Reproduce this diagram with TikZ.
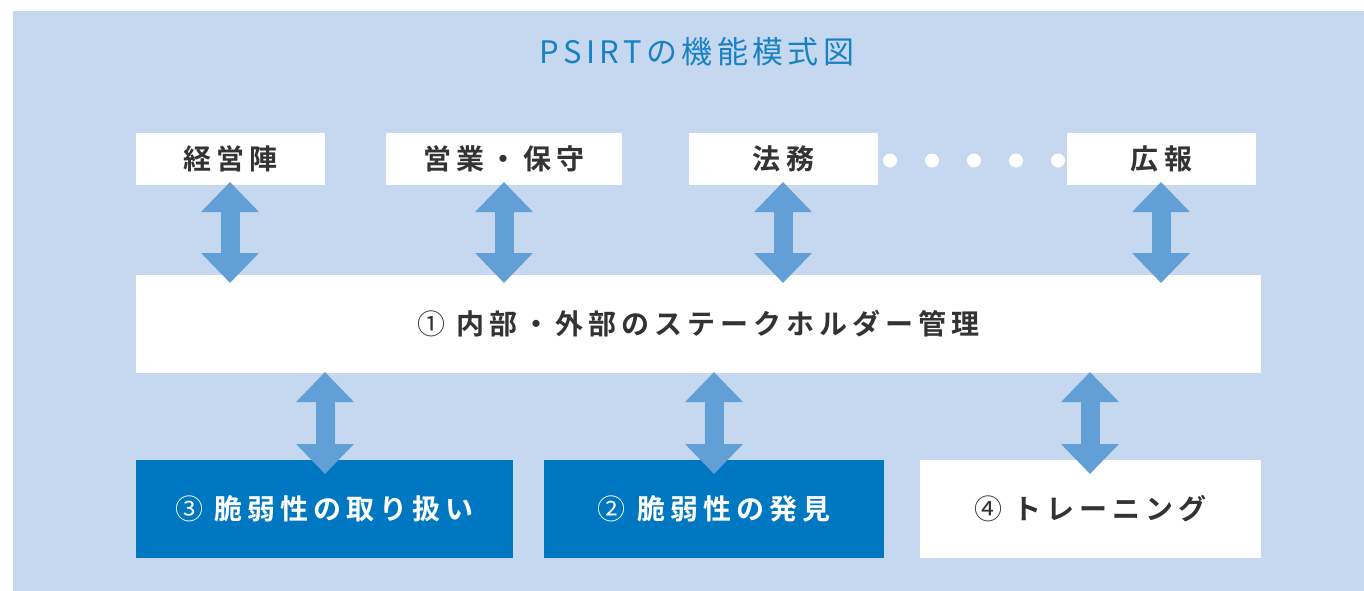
\documentclass[tikz,border=0pt]{standalone}
\usepackage{fontspec}
\usetikzlibrary{arrows.meta}
\newfontfamily\jpr[LetterSpace=14]{Noto Sans CJK JP}
\newfontfamily\jpb[LetterSpace=18]{Noto Sans CJK JP Bold}
\newfontfamily\jpn[LetterSpace=18]{Noto Sans CJK JP}
\definecolor{bgblue}{HTML}{C5D8EF}
\definecolor{arrblue}{HTML}{629FD6}
\definecolor{darkblue}{HTML}{0078C1}
\definecolor{titleblue}{HTML}{1A80C4}
\definecolor{txtgray}{HTML}{333333}
\tikzset{
  whitebox/.style={fill=white, draw=none, inner sep=0pt, text=txtgray, font=\jpb\fontsize{28}{32}\selectfont},
  bluebox/.style={fill=darkblue, draw=none, inner sep=0pt, text=white, font=\jpb\fontsize{28}{32}\selectfont},
  dblarrow/.style={arrblue, line width=19pt,
    {Triangle[width=56pt,length=30pt]}-{Triangle[width=56pt,length=30pt]}},
  wdot/.style={circle, fill=white, draw=none, minimum size=14pt, inner sep=0pt}
}
\begin{document}
\begin{tikzpicture}[x=1pt,y=-1pt]
\useasboundingbox (0,0) rectangle (1364,591);
\fill[bgblue] (13,11) rectangle (1364,591);
\node[text=titleblue, font=\jpr\fontsize{31}{35}\selectfont] (title) at (697,52) {PSIRTの機能模式図};
% top boxes
\node[whitebox, minimum width=189pt, minimum height=52pt] (keiei) at (230.5,159) {経営陣};
\node[whitebox, minimum width=236pt, minimum height=52pt] (eigyo) at (504,159) {営業・保守};
\node[whitebox, minimum width=189pt, minimum height=52pt] (houmu) at (783.5,159) {法務};
\node[whitebox, minimum width=189pt, minimum height=52pt] (kouhou) at (1161.5,159) {広報};
\foreach \i/\x in {1/890,2/932,3/974,4/1016,5/1058}
  \node[wdot] (dot\i) at (\x,160.5) {};
% middle box
\node[whitebox, minimum width=1125pt, minimum height=98pt] (mgmt) at (698.5,324) {{\jpn ①} 内部・外部のステークホルダー管理};
% bottom boxes
\node[bluebox, minimum width=377pt, minimum height=98pt] (handle) at (324.5,509) {{\jpn ③} 脆弱性の取り扱い};
\node[bluebox, minimum width=340pt, minimum height=98pt] (find) at (714,509) {{\jpn ②} 脆弱性の発見};
\node[whitebox, minimum width=341pt, minimum height=98pt] (train) at (1090.5,509) {{\jpn ④} トレーニング};
% arrows
\coordinate (a1t) at (230,182);  \coordinate (a1b) at (230,283);
\coordinate (a2t) at (504,182);  \coordinate (a2b) at (504,283);
\coordinate (a3t) at (783,182);  \coordinate (a3b) at (783,283);
\coordinate (a4t) at (1161,182); \coordinate (a4b) at (1161,283);
\coordinate (b1t) at (325,372);  \coordinate (b1b) at (325,474);
\coordinate (b2t) at (714,372);  \coordinate (b2b) at (714,474);
\coordinate (b3t) at (1090,372); \coordinate (b3b) at (1090,474);
\foreach \p in {a1,a2,a3,a4,b1,b2,b3}
  \draw[dblarrow] (\p t) -- (\p b);
\end{tikzpicture}
\end{document}
